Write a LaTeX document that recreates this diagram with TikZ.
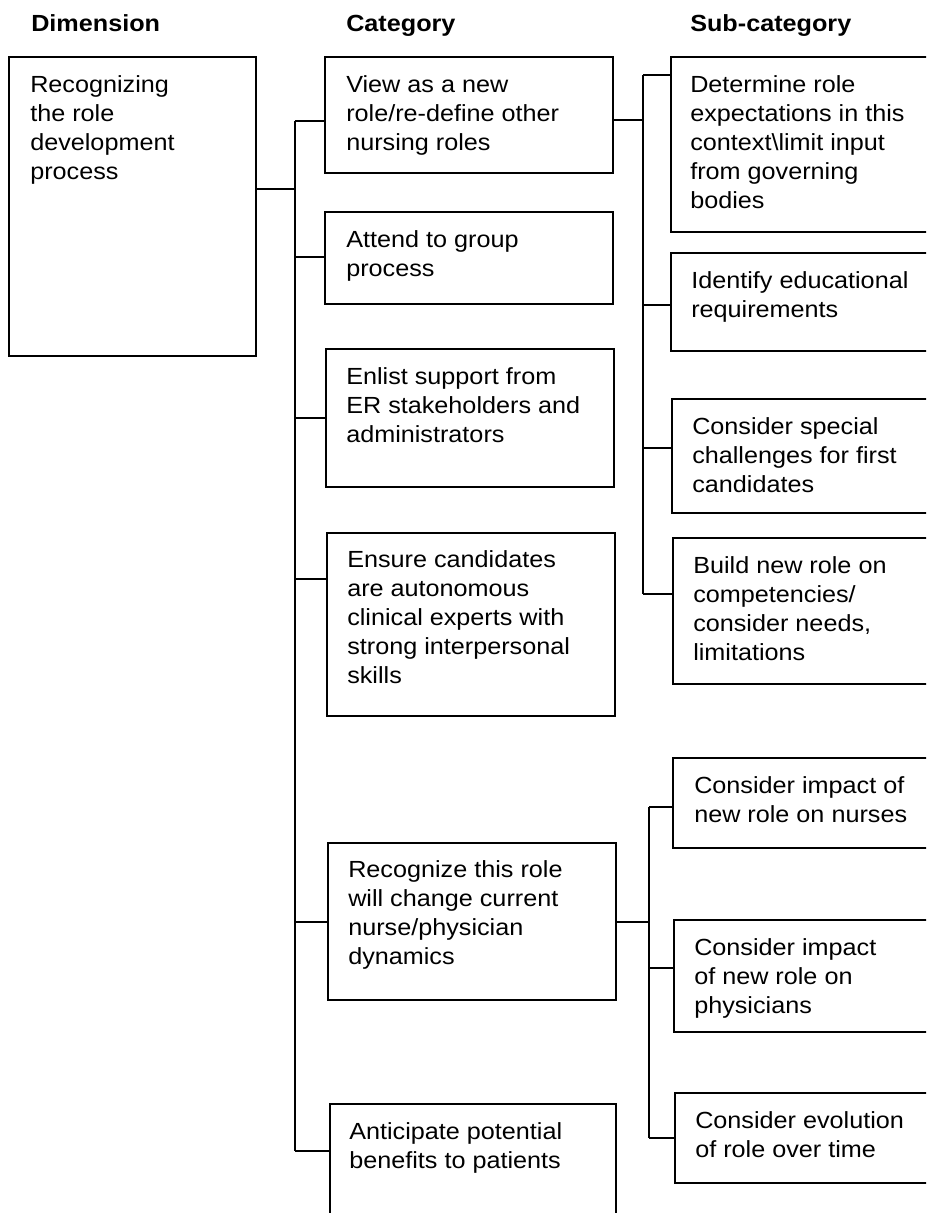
\documentclass[tikz,border=0pt]{standalone}
\usepackage{fontspec}
\setmainfont{Liberation Sans}[FakeStretch=1.08]
\usetikzlibrary{fit}
\begin{document}
\begin{tikzpicture}[x=0.75pt,y=-0.75pt,
  box/.style={draw=black, line width=1.4pt, inner sep=0pt, fill=none},
  txt/.style={anchor=north west, inner sep=0pt, align=left, font=\fontsize{17.5pt}{21.8pt}\selectfont},
  head/.style={anchor=base west, inner sep=0pt, font=\fontsize{17.5pt}{21.8pt}\selectfont\bfseries},
  conn/.style={draw=black, line width=1.4pt}]
\useasboundingbox (0,0) rectangle (926,1213);
\clip (0,0) rectangle (926,1213);

% headers
\node[head] (hdim) at (31,32) {Dimension};
\node[head] (hcat) at (346,32) {Category};
\node[head] (hsub) at (690,32) {Sub-category};

% dimension
\node[box, fit={(9,57)(256,356)}] (dim) {};
\node[txt] (dimt) at (30,75) {Recognizing\\the role\\development\\process};

% categories
\node[box, fit={(325,57)(613,173)}] (c1) {};
\node[txt] (c1t) at (346,75) {View as a new\\role/re-define other\\nursing roles};
\node[box, fit={(325,212)(613,304)}] (c2) {};
\node[txt] (c2t) at (346,230) {Attend to group\\process};
\node[box, fit={(326,349)(614,487)}] (c3) {};
\node[txt] (c3t) at (346,367) {Enlist support from\\ER stakeholders and\\administrators};
\node[box, fit={(327,533)(615,716)}] (c4) {};
\node[txt] (c4t) at (347,550) {Ensure candidates\\are autonomous\\clinical experts with\\strong interpersonal\\skills};
\node[box, fit={(328,843)(616,1000)}] (c5) {};
\node[txt] (c5t) at (348,860) {Recognize this role\\will change current\\nurse/physician\\dynamics};
\node[box, fit={(330,1104)(616,1240)}] (c6) {};
\node[txt] (c6t) at (349,1122) {Anticipate potential\\benefits to patients};

% sub-categories (upper)
\node[box, fit={(671,57)(940,232)}] (s1) {};
\node[txt] (s1t) at (690,75) {Determine role\\expectations in this\\context\textbackslash limit input\\from governing\\bodies};
\node[box, fit={(671,253)(940,351)}] (s2) {};
\node[txt] (s2t) at (691,271) {Identify educational\\requirements};
\node[box, fit={(672,399)(940,513)}] (s3) {};
\node[txt] (s3t) at (692,417) {Consider special\\challenges for first\\candidates};
\node[box, fit={(673,538)(940,684)}] (s4) {};
\node[txt] (s4t) at (693,556) {Build new role on\\competencies/\\consider needs,\\limitations};

% sub-categories (lower)
\node[box, fit={(673,758)(940,848)}] (s5) {};
\node[txt] (s5t) at (694,776) {Consider impact of\\new role on nurses};
\node[box, fit={(674,920)(940,1032)}] (s6) {};
\node[txt] (s6t) at (694,938) {Consider impact\\of new role on\\physicians};
\node[box, fit={(675,1093)(940,1183)}] (s7) {};
\node[txt] (s7t) at (695,1111) {Consider evolution\\of role over time};

% junction coordinates: main trunk
\coordinate (j0) at (295,189);
\coordinate (j1) at (295,121);
\coordinate (j2) at (295,257);
\coordinate (j3) at (295,418);
\coordinate (j4) at (295,579);
\coordinate (j5) at (295,922);
\coordinate (j6) at (295,1151);
\draw[conn] (dim.east |- j0) -- (j0);
\draw[conn] (j1) -- (j6);
\foreach \i in {1,...,6} {\draw[conn] (j\i) -- (c\i.west |- j\i);}

% upper sub trunk
\coordinate (k0) at (643,120);
\coordinate (k1) at (643,75);
\coordinate (k2) at (643,305);
\coordinate (k3) at (643,448);
\coordinate (k4) at (643,594);
\draw[conn] (c1.east |- k0) -- (k0);
\draw[conn] (k1) -- (k4);
\foreach \i in {1,...,4} {\draw[conn] (k\i) -- (s\i.west |- k\i);}

% lower sub trunk
\coordinate (m0) at (649,922);
\coordinate (m5) at (649,807);
\coordinate (m6) at (649,968);
\coordinate (m7) at (649,1138);
\draw[conn] (c5.east |- m0) -- (m0);
\draw[conn] (m5) -- (m7);
\foreach \i in {5,6,7} {\draw[conn] (m\i) -- (s\i.west |- m\i);}
\end{tikzpicture}
\end{document}
